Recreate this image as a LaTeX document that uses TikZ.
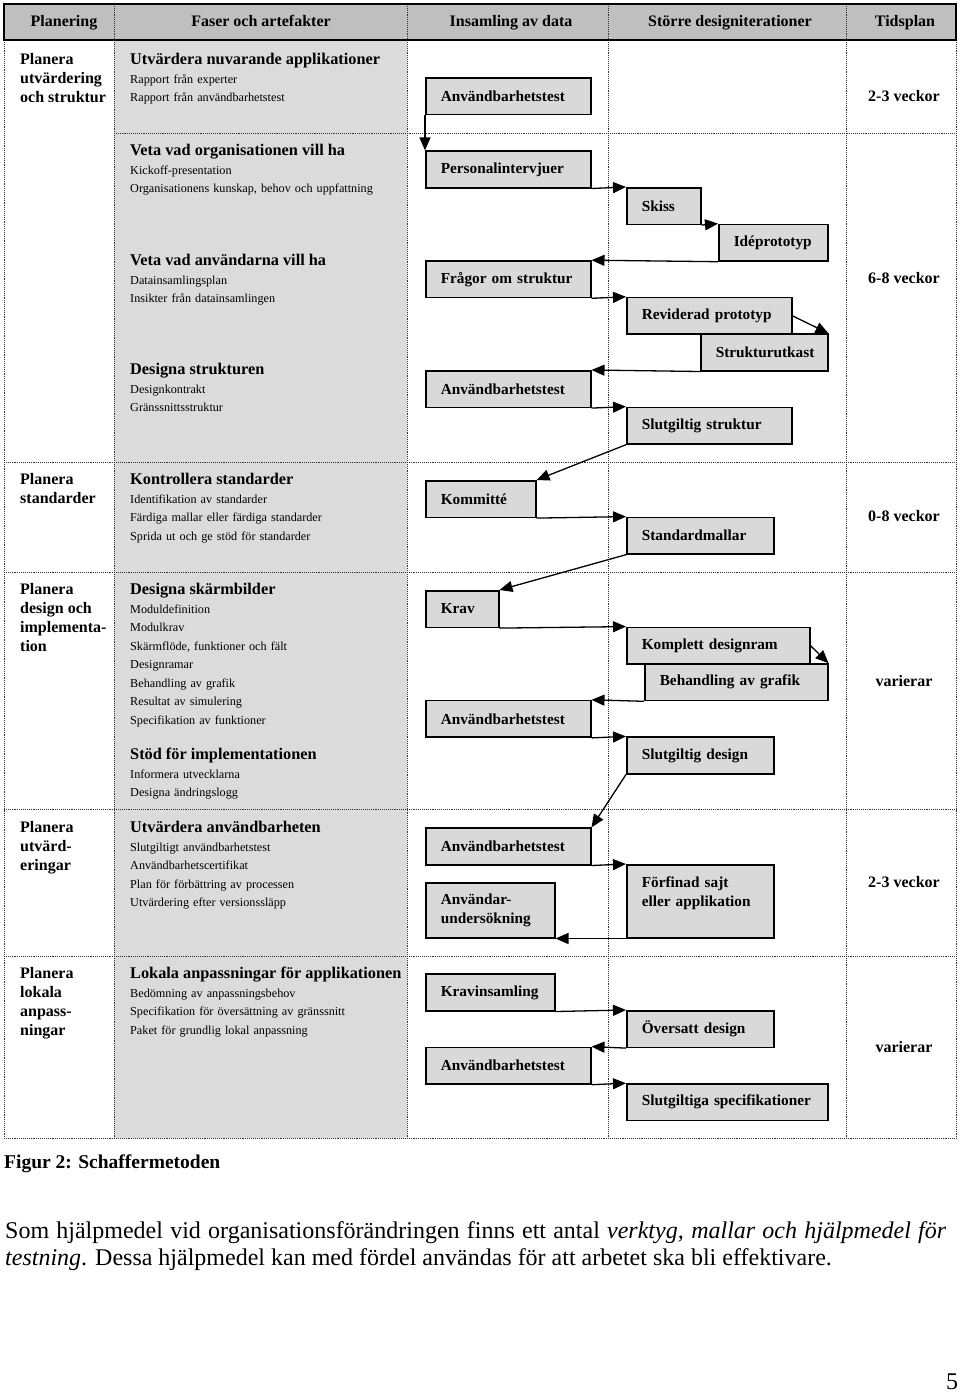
\documentclass[tikz,border=0pt]{standalone}
\usepackage{fontspec}
\setmainfont{Liberation Serif}
\usepackage{tikz}
\usetikzlibrary{
  arrows.meta,
  calc
}
\definecolor{rubrikgra}{gray}{0.75}
\definecolor{fasgra}{gray}{0.86}
\definecolor{rutgra}{gray}{0.85}
\newcommand{\fasrubrik}[1]{{\fontsize{16.3}{18.5}\selectfont\bfseries #1}}

\begin{document}
\begin{tikzpicture}[
      x=1pt, y=-1pt,
      ruta/.style={draw=black, fill=rutgra, line width=1.5pt, anchor=north west, inner xsep=15pt, inner ysep=0pt, minimum height=36.6pt, text width=#1, align=left, font=\fontsize{15.3}{19}\selectfont\bfseries},
      pil/.style={-{Triangle[length=13pt,width=11pt]}, line width=1.3pt},
      rutnat/.style={densely dotted, line width=0.9pt, black!80},
      rubrik/.style={anchor=base, font=\fontsize{16}{19}\selectfont\bfseries},
      planera/.style={anchor=north west, inner sep=0pt, align=left, font=\fontsize{16}{19}\selectfont\bfseries},
      fas/.style={anchor=north west, inner sep=0pt, text width=276pt, align=left, font=\fontsize{12.2}{18.5}\selectfont},
      tid/.style={anchor=base, font=\fontsize{16}{19}\selectfont\bfseries}
  ]
    \useasboundingbox (0,0) rectangle (960,1393);

    % Grå kolumn och rubrikrad
    \fill [fasgra] (114,40) rectangle (407,1138);
    \fill [rubrikgra] (4,4) rectangle (956,40);

    % Rutnät
    \draw [rutnat] (114,4) -- (114,1138) (407,4) -- (407,1138) (608,4) -- (608,1138) (846,4) -- (846,1138);
    \draw [rutnat] (4,40) -- (4,1138) (956,40) -- (956,1138);
    \draw [rutnat] (114,133) -- (956,133);
    \draw [rutnat] (4,462) -- (956,462) (4,572) -- (956,572) (4,809) -- (956,809) (4,956) -- (956,956) (4,1138) -- (956,1138);
    \draw [line width=1.5pt] (4,4) rectangle (956,40);

    % Rubriker
    \node [rubrik] (rplan) at (64,26.5) {Planering};
    \node [rubrik] (rfas) at (261,26.5) {Faser och artefakter};
    \node [rubrik] (rdata) at (511,26.5) {Insamling av data};
    \node [rubrik] (riter) at (730,26.5) {Större designiterationer};
    \node [rubrik] (rtid) at (905,26.5) {Tidsplan};

    % Planering
    \node [planera] (plan1) at (20,53) {Planera\\utvärdering\\och struktur};
    \node [planera] (plan2) at (20,473) {Planera\\standarder};
    \node [planera] (plan3) at (20,583) {Planera\\design och\\implementa-\\tion};
    \node [planera] (plan4) at (20,821) {Planera\\utvärd-\\eringar};
    \node [planera] (plan5) at (20,967) {Planera\\lokala\\anpass-\\ningar};

    % Faser och artefakter
    \node [fas] (fas1) at (130,53) {\fasrubrik{Utvärdera nuvarande applikationer}\\Rapport från experter\\Rapport från användbarhetstest};
    \node [fas] (fas2) at (130,144) {\fasrubrik{Veta vad organisationen vill ha}\\Kickoff-presentation\\Organisationens kunskap, behov och uppfattning};
    \node [fas] (fas3) at (130,254) {\fasrubrik{Veta vad användarna vill ha}\\Datainsamlingsplan\\Insikter från datainsamlingen};
    \node [fas] (fas4) at (130,363) {\fasrubrik{Designa strukturen}\\Designkontrakt\\Gränssnittsstruktur};
    \node [fas] (fas5) at (130,473) {\fasrubrik{Kontrollera standarder}\\Identifikation av standarder\\Färdiga mallar eller färdiga standarder\\Sprida ut och ge stöd för standarder};
    \node [fas] (fas6) at (130,583) {\fasrubrik{Designa skärmbilder}\\Moduldefinition\\Modulkrav\\Skärmflöde, funktioner och fält\\Designramar\\Behandling av grafik\\Resultat av simulering\\Specifikation av funktioner};
    \node [fas] (fas7) at (130,748) {\fasrubrik{Stöd för implementationen}\\Informera utvecklarna\\Designa ändringslogg};
    \node [fas] (fas8) at (130,821) {\fasrubrik{Utvärdera användbarheten}\\Slutgiltigt användbarhetstest\\Användbarhetscertifikat\\Plan för förbättring av processen\\Utvärdering efter versionssläpp};
    \node [fas] (fas9) at (130,967) {\fasrubrik{Lokala anpassningar för applikationen}\\Bedömning av anpassningsbehov\\Specifikation för översättning av gränssnitt\\Paket för grundlig lokal anpassning};

    % Rutor
    \node [ruta=135] (anv1) at (425,77) {Användbarhetstest};
    \node [ruta=135] (pers) at (425,150.4) {Personalintervjuer};
    \node [ruta=44] (skiss) at (626,187) {Skiss};
    \node [ruta=79] (ide) at (718,223.6) {Idéprototyp};
    \node [ruta=135] (fragor) at (425,260.2) {Frågor om struktur};
    \node [ruta=135] (rev) at (626,296.8) {Reviderad prototyp};
    \node [ruta=97] (utkast) at (700,333.4) {Strukturutkast};
    \node [ruta=135] (anv2) at (425,370) {Användbarhetstest};
    \node [ruta=135] (slutstr) at (626,406.6) {Slutgiltig struktur};
    \node [ruta=80] (kom) at (425,480) {Kommitté};
    \node [ruta=117] (std) at (626,516.6) {Standardmallar};
    \node [ruta=43] (krav) at (425,590) {Krav};
    \node [ruta=153] (komplett) at (626,626.6) {Komplett designram};
    \node [ruta=153] (grafik) at (644,663.2) {Behandling av grafik};
    \node [ruta=135] (anv3) at (425,699.8) {Användbarhetstest};
    \node [ruta=117] (slutdes) at (626,736.4) {Slutgiltig design};
    \node [ruta=135] (anv4) at (425,827.4) {Användbarhetstest};
    \node [ruta=117, minimum height=73pt] (forfinad) at (626,864) {Förfinad sajt\\eller applikation\\\mbox{}};
    \node [ruta=99, minimum height=55pt] (anvund) at (425,882) {Användar-\\undersökning};
    \node [ruta=99] (kravins) at (425,973.4) {Kravinsamling};
    \node [ruta=117] (oversatt) at (626,1010) {Översatt design};
    \node [ruta=135] (anv5) at (425,1046.6) {Användbarhetstest};
    \node [ruta=171] (slutspec) at (626,1083.2) {Slutgiltiga specifikationer};

    % Pilar
    \draw [pil] (anv1.south west) -- (pers.north west);
    \draw [pil] (pers.south east) -- (skiss.north west);
    \draw [pil] (skiss.south east) -- (ide.north west);
    \draw [pil] (ide.south west) -- (fragor.north east);
    \draw [pil] (fragor.south east) -- (rev.north west);
    \draw [pil] (rev.east) -- (utkast.north east);
    \draw [pil] (utkast.south west) -- (anv2.north east);
    \draw [pil] (anv2.south east) -- (slutstr.north west);
    \draw [pil] (slutstr.south west) -- (kom.north east);
    \draw [pil] (kom.south east) -- (std.north west);
    \draw [pil] (std.south west) -- (krav.north east);
    \draw [pil] (krav.south east) -- (komplett.north west);
    \draw [pil] (komplett.east) -- (grafik.north east);
    \draw [pil] (grafik.south west) -- (anv3.north east);
    \draw [pil] (anv3.south east) -- (slutdes.north west);
    \draw [pil] (slutdes.south west) -- (anv4.north east);
    \draw [pil] (anv4.south east) -- (forfinad.north west);
    \draw [pil] (forfinad.south west) -- (anvund.south east);
    \draw [pil] (kravins.south east) -- (oversatt.north west);
    \draw [pil] (oversatt.south west) -- (anv5.north east);
    \draw [pil] (anv5.south east) -- (slutspec.north west);

    % Tidsplan
    \node [tid] (tid1) at (904,101.5) {2-3 veckor};
    \node [tid] (tid2) at (904,283.5) {6-8 veckor};
    \node [tid] (tid3) at (904,521.5) {0-8 veckor};
    \node [tid] (tid4) at (904,686.5) {varierar};
    \node [tid] (tid5) at (904,887.5) {2-3 veckor};
    \node [tid] (tid6) at (904,1052.5) {varierar};

    % Figurtext och brödtext
    \node [anchor=west, inner sep=0pt, font=\fontsize{19.5}{23}\selectfont\bfseries] (figtext) at (4,1164) {Figur 2: Schaffermetoden};
    \node [anchor=north west, inner sep=0pt, text width=941pt, align=justify, font=\fontsize{24}{27}\selectfont] (stycke) at (5,1221.5) {Som hjälpmedel vid organisationsförändringen finns ett antal \textit{verktyg, mallar och hjälpmedel för testning}. Dessa hjälpmedel kan med fördel användas för att arbetet ska bli effektivare.};
    \node [font=\fontsize{24}{27}\selectfont] (sidnr) at (952,1382) {5};
  \end{tikzpicture}
\end{document}
